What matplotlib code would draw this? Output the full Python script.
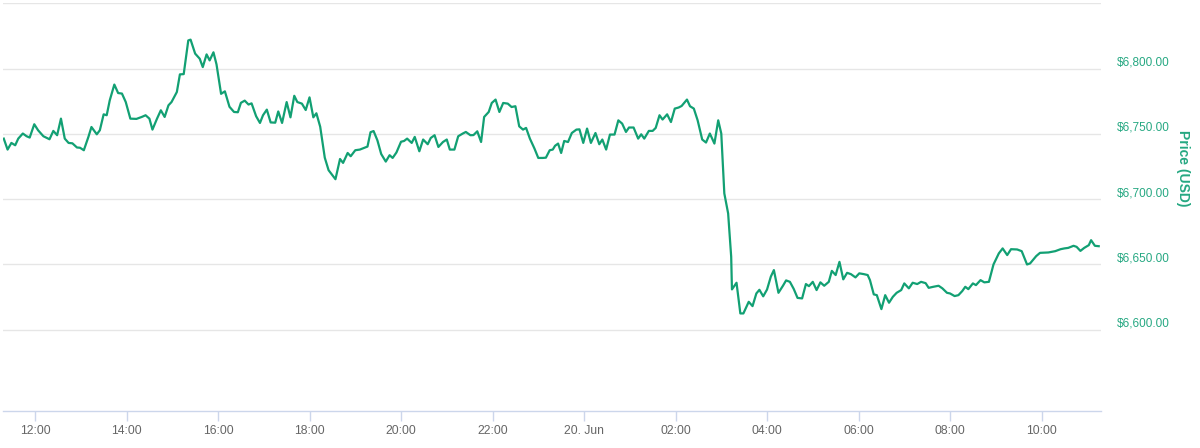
import matplotlib
matplotlib.use("Agg")
import matplotlib.pyplot as plt
import matplotlib.dates as mdates
import matplotlib.transforms as mtransforms
import pandas as pd

# Price samples: minutes since 19 Jun 00:00, price in USD
minutes = [
    679, 684, 689, 694, 698, 704, 709, 713, 719, 724, 731, 739, 744, 749, 754, 759,
    764, 769, 775, 779, 784, 790, 794, 801, 805, 810, 814, 818, 824, 829, 834, 839,
    845, 853, 860, 865, 870, 874, 880, 885, 890, 895, 899, 906, 910, 915, 921, 924,
    930, 936, 940, 945, 949, 954, 958, 964, 969, 975, 981, 986, 990, 995, 1000, 1004,
    1010, 1015, 1019, 1024, 1029, 1035, 1039, 1044, 1050, 1055, 1060, 1064, 1070, 1075,
    1080, 1085, 1089, 1094, 1100, 1105, 1114, 1120, 1124, 1130, 1134, 1140, 1146, 1153,
    1156, 1160, 1164, 1169, 1174, 1180, 1185, 1189, 1194, 1200, 1204, 1208, 1214, 1218,
    1224, 1229, 1235, 1239, 1244, 1249, 1255, 1260, 1264, 1270, 1275, 1281, 1285, 1291,
    1295, 1300, 1305, 1309, 1315, 1319, 1324, 1329, 1334, 1340, 1345, 1350, 1355, 1360,
    1364, 1369, 1375, 1380, 1386, 1390, 1395, 1399, 1402, 1406, 1410, 1414, 1419, 1424,
    1430, 1434, 1439, 1444, 1449, 1455, 1460, 1464, 1469, 1474, 1480, 1485, 1490, 1495,
    1499, 1505, 1511, 1515, 1519, 1525, 1530, 1534, 1539, 1543, 1549, 1554, 1559, 1564,
    1568, 1575, 1579, 1584, 1589, 1595, 1600, 1605, 1611, 1616, 1620, 1624, 1629, 1633,
    1634, 1640, 1645, 1649, 1656, 1661, 1666, 1670, 1675, 1680, 1685, 1689, 1695, 1701,
    1705, 1710, 1715, 1720, 1726, 1731, 1735, 1740, 1745, 1750, 1755, 1761, 1765, 1770,
    1775, 1780, 1785, 1790, 1796, 1801, 1807, 1812, 1815, 1820, 1824, 1830, 1835, 1840,
    1845, 1850, 1856, 1860, 1866, 1871, 1877, 1882, 1888, 1892, 1898, 1905, 1910, 1916,
    1920, 1926, 1931, 1936, 1940, 1944, 1950, 1954, 1960, 1965, 1971, 1977, 1984, 1989,
    1995, 2000, 2008, 2014, 2021, 2025, 2033, 2038, 2049, 2058, 2065, 2070, 2075, 2082,
    2086, 2091, 2096, 2102, 2105, 2110, 2115,
]
prices = [
    6746.4, 6738.0, 6743.1, 6741.3, 6746.4, 6750.3, 6748.2, 6747.2, 6757.4, 6752.8,
    6748.2, 6745.9, 6752.3, 6749.0, 6761.7, 6746.4, 6743.1, 6742.8, 6739.6, 6739.4,
    6737.5, 6747.7, 6755.3, 6749.7, 6752.8, 6765.0, 6764.3, 6775.7, 6787.8, 6781.3,
    6780.9, 6774.4, 6761.7, 6761.5, 6763.0, 6764.3, 6761.7, 6753.3, 6761.7, 6768.1,
    6763.0, 6771.9, 6774.4, 6782.1, 6795.6, 6795.8, 6821.6, 6822.2, 6811.5, 6807.6,
    6801.2, 6810.9, 6806.3, 6812.5, 6803.3, 6780.7, 6782.6, 6770.8, 6766.8, 6766.6,
    6773.8, 6775.5, 6772.5, 6773.4, 6763.5, 6758.4, 6764.3, 6768.6, 6758.8, 6758.6,
    6767.2, 6758.4, 6774.4, 6762.7, 6779.2, 6774.4, 6773.2, 6768.3, 6778.0, 6762.7,
    6765.8, 6755.5, 6731.8, 6722.2, 6715.3, 6730.8, 6727.8, 6735.4, 6732.9, 6737.5,
    6738.0, 6739.6, 6740.3, 6751.3, 6752.2, 6745.1, 6734.6, 6728.8, 6733.7, 6731.6,
    6735.8, 6744.0, 6744.6, 6746.4, 6743.1, 6747.7, 6736.7, 6745.7, 6742.1, 6746.9,
    6749.0, 6740.0, 6743.8, 6745.7, 6738.0, 6738.0, 6748.2, 6750.3, 6751.5, 6749.0,
    6749.1, 6752.0, 6743.8, 6763.0, 6766.8, 6773.7, 6776.3, 6766.8, 6773.7, 6773.2,
    6770.6, 6771.2, 6755.8, 6753.3, 6754.6, 6746.4, 6738.8, 6731.6, 6731.6, 6731.8,
    6737.5, 6738.0, 6740.9, 6742.6, 6735.4, 6744.6, 6743.8, 6750.7, 6753.3, 6753.5,
    6743.1, 6754.1, 6743.1, 6750.7, 6742.1, 6745.7, 6738.0, 6749.5, 6749.5, 6760.4,
    6757.9, 6751.5, 6754.9, 6754.9, 6746.4, 6749.7, 6746.4, 6752.3, 6752.3, 6754.6,
    6764.3, 6761.0, 6765.0, 6759.1, 6769.4, 6770.2, 6771.4, 6776.3, 6771.2, 6769.4,
    6760.4, 6745.7, 6743.4, 6750.3, 6742.6, 6760.4, 6750.3, 6704.4, 6689.1, 6655.9,
    6630.9, 6636.0, 6612.5, 6612.5, 6621.4, 6618.1, 6627.8, 6630.6, 6625.6, 6630.8,
    6640.7, 6645.7, 6628.3, 6633.8, 6637.8, 6636.7, 6631.3, 6624.4, 6624.0, 6635.0,
    6633.4, 6636.7, 6630.4, 6636.3, 6633.7, 6636.7, 6645.1, 6641.9, 6652.0, 6638.6,
    6643.6, 6642.6, 6640.1, 6643.2, 6642.6, 6641.9, 6638.0, 6627.1, 6626.5, 6615.8,
    6626.5, 6620.7, 6625.2, 6628.3, 6630.4, 6635.5, 6631.7, 6636.0, 6635.0, 6636.7,
    6635.7, 6632.1, 6632.9, 6633.7, 6631.7, 6628.3, 6627.8, 6625.8, 6626.5, 6629.6,
    6632.9, 6631.1, 6635.5, 6634.2, 6638.0, 6636.3, 6636.7, 6650.0, 6658.5, 6662.3,
    6657.2, 6661.7, 6661.5, 6660.2, 6650.0, 6650.8, 6656.4, 6658.9, 6659.2, 6660.2,
    6661.7, 6662.3, 6662.7, 6664.3, 6663.5, 6660.4, 6662.7, 6664.8, 6668.6, 6664.3,
    6664.0,
]

y_ticks = [6600, 6650, 6700, 6750, 6800]
y_grid = [6600, 6650, 6700, 6750, 6800, 6850]
y_label = "Price (USD)"

day0 = pd.Timestamp("2018-06-19")
times = day0 + pd.to_timedelta(minutes, unit="min")

line_color = "#12a073"
label_color = "#26a882"

plt.rcParams["font.family"] = ["Liberation Sans", "DejaVu Sans"]

fig = plt.figure(figsize=(12, 4.48), dpi=100)
ax = fig.add_axes([3 / 1200, 37.3 / 448, 1098 / 1200, 408 / 448])

for g in y_grid:
    ax.axhline(g, color="#e6e6e6", linewidth=1, zorder=1)

ax.plot(times, prices, color=line_color, linewidth=1.6, zorder=3,
        solid_joinstyle="round")

ax.set_xlim(day0 + pd.Timedelta(minutes=678), day0 + pd.Timedelta(minutes=2118))
ax.set_ylim(6538, 6850.5)

# x axis
ax.xaxis.set_major_locator(mdates.HourLocator(byhour=range(0, 24, 2)))


def fmt_time(x, pos=None):
    d = mdates.num2date(x)
    if d.hour == 0 and d.minute == 0:
        return d.strftime("%d. %b")
    return d.strftime("%H:%M")


ax.xaxis.set_major_formatter(plt.FuncFormatter(fmt_time))
ax.tick_params(axis="x", length=7, width=1, color="#ccd6eb", pad=3,
               labelsize=8.7, labelcolor="#666666", direction="out")

# y axis: labels on the right, no ticks
ax.set_yticks([])
trans = mtransforms.offset_copy(ax.get_yaxis_transform(), fig=fig, x=0, y=6,
                                units="dots")
for v in y_ticks:
    ax.text(1.0143, v, f"${v:,.2f}", transform=trans, ha="left", va="center",
            fontsize=8.5, color=label_color)

fig.text(1183 / 1200, 1 - 168 / 448, y_label, rotation=270, ha="center",
         va="center", fontsize=10, fontweight="bold", color=label_color)

for s in ["left", "right", "top"]:
    ax.spines[s].set_visible(False)
ax.spines["bottom"].set_color("#ccd6eb")
ax.spines["bottom"].set_linewidth(1)
ax.set_facecolor("white")
fig.patch.set_facecolor("white")

fig.savefig("out.png", dpi=100)
